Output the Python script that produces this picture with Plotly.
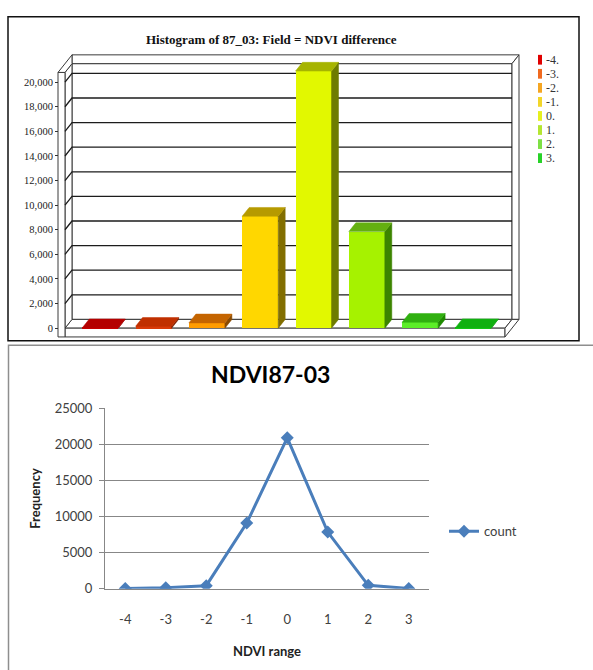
import plotly.graph_objects as go

# ---- data -------------------------------------------------------------
ndvi_classes = [-4, -3, -2, -1, 0, 1, 2, 3]
class_labels = ["-4.", "-3.", "-2.", "-1.", "0.", "1.", "2.", "3."]
counts = [30, 150, 430, 9100, 20900, 7850, 480, 40]
top_ticks = list(range(0, 20001, 2000))
bottom_ticks = [0, 5000, 10000, 15000, 20000, 25000]

# ---- palette ----------------------------------------------------------
front_colors = ["#C80000", "#D83A08", "#FF9C00", "#FFD700", "#E2F800", "#A6F200", "#5CEE28", "#14C814"]
top_colors = ["#B40000", "#C03000", "#C46400", "#B69A00", "#A6B400", "#64B010", "#30B010", "#10B010"]
side_colors = ["#7A0000", "#802000", "#8A4A00", "#826E00", "#6E7C00", "#3C8400", "#1E8A00", "#0A800A"]
legend_colors = ["#E00000", "#F06A20", "#F5A623", "#F2D62A", "#E6F01E", "#B4E632", "#7EE044", "#28D228"]
LINE_BLUE = "#4A7EBB"
GRID_GRAY = "#878787"

# ---- page geometry (pixels) ------------------------------------------
W, H = 593, 670
C0, STEP = 100.3, 53.3        # x of first class centre, spacing per class
Z0, K = 328.0, 0.0126         # y of the zero line, pixels per count


def fx(px):
    return px / W


def fy(py):
    return 1 - py / H


def dx(px):  # pixel x -> top-chart data x
    return (px - C0) / STEP + ndvi_classes[0]


def dv(py):  # pixel y -> top-chart data value
    return (Z0 - py) / K


top_xr = [dx(47), dx(527)]
top_yr = [dv(346), dv(39)]

DX = 7 / STEP                  # depth of the pseudo-3D box, class units
DY = 9 / K                     # depth of the pseudo-3D box, count units
BAR_W = 36 / STEP

xf0, xf1 = dx(65), dx(505)     # front plane extents
xlo = xf0 - DX                 # outer face of the left wall
TOP = dv(66)                   # top of the front plane
SL = DY                        # slab thickness of floor / walls

fig = go.Figure()

# ---- top chart: bars (front faces) -------------------------------------
fig.add_trace(go.Bar(
    x=ndvi_classes, y=counts, width=BAR_W,
    marker=dict(color=front_colors, line=dict(width=0)),
    xaxis="x", yaxis="y", showlegend=False, hoverinfo="skip",
))

# top and side faces of every bar
for c, v, tc, sc in zip(ndvi_classes, counts, top_colors, side_colors):
    l, r = c - BAR_W / 2, c + BAR_W / 2
    fig.add_trace(go.Scatter(
        x=[r, r + DX, r + DX, r, r], y=[0, DY, v + DY, v, 0],
        fill="toself", fillcolor=sc, mode="lines", line=dict(color=sc, width=0.5),
        xaxis="x", yaxis="y", showlegend=False, hoverinfo="skip",
    ))
    fig.add_trace(go.Scatter(
        x=[l, l + DX, r + DX, r, l], y=[v, v + DY, v + DY, v, v],
        fill="toself", fillcolor=tc, mode="lines", line=dict(color=tc, width=0.5),
        xaxis="x", yaxis="y", showlegend=False, hoverinfo="skip",
    ))

# ---- top chart: box frame and back-wall grid ----------------------------
def path(points):
    return "M" + " L".join(f"{x:.5f},{y:.2f}" for x, y in points) + " Z"


frame_faces = [
    # back wall
    [(xf0 + DX, DY), (xf1 + DX, DY), (xf1 + DX, TOP + DY), (xf0 + DX, TOP + DY)],
    [(xf0 + DX, TOP + DY), (xf1 + DX, TOP + DY), (xf1 + 2 * DX, TOP + 2 * DY), (xf0 + DX, TOP + 2 * DY)],
    [(xf1 + DX, DY), (xf1 + DX, TOP + DY), (xf1 + 2 * DX, TOP + 2 * DY), (xf1 + 2 * DX, DY)],
    # floor
    [(xf0, 0), (xf1, 0), (xf1 + DX, DY), (xf0 + DX, DY)],
    [(xf0, -SL), (xf1, -SL), (xf1, 0), (xf0, 0)],
    [(xf1, -SL), (xf1, 0), (xf1 + DX, DY), (xf1 + 2 * DX, DY)],
    # left wall
    [(xf0, 0), (xf0 + DX, DY), (xf0 + DX, TOP + DY), (xf0, TOP)],
    [(xlo, -SL), (xf0, -SL), (xf0, TOP), (xlo, TOP)],
    [(xlo, TOP), (xf0, TOP), (xf0 + DX, TOP + DY), (xf0 + DX, TOP + 2 * DY)],
]
shapes = []
for face in frame_faces:
    shapes.append(dict(type="path", xref="x", yref="y", layer="below",
                       path=path(face), fillcolor="white",
                       line=dict(color="#3a3a3a", width=1)))
for t in top_ticks[1:]:
    shapes.append(dict(
        type="path", xref="x", yref="y", layer="below",
        path=f"M{xf0:.5f},{t} L{xf0 + DX:.5f},{t + DY:.2f} L{xf1 + DX:.5f},{t + DY:.2f}",
        line=dict(color="#1c1c1c", width=1.3)))

# panel borders
shapes.append(dict(type="rect", xref="paper", yref="paper",
                   x0=fx(8), x1=fx(579), y0=fy(9), y1=fy(341),
                   line=dict(color="#111111", width=1.5)))
shapes.append(dict(type="rect", xref="paper", yref="paper",
                   x0=fx(8.5), x1=fx(605), y0=fy(345.5), y1=fy(690),
                   line=dict(color="#8e8e8e", width=1.5)))

# class key of the top chart
annotations = []
for k, (lab, col) in enumerate(zip(class_labels, legend_colors)):
    yc = 53 + 14.4 * k
    shapes.append(dict(type="rect", xref="paper", yref="paper",
                       x0=fx(538), x1=fx(542), y0=fy(yc + 5), y1=fy(yc - 5),
                       fillcolor=col, line=dict(width=0)))
    annotations.append(dict(xref="paper", yref="paper", x=fx(544), y=fy(yc),
                            xanchor="left", yanchor="middle", showarrow=False,
                            text=lab, font=dict(family="Liberation Serif", size=12, color="#333")))

annotations.append(dict(xref="paper", yref="paper", x=fx(271), y=fy(32),
                        xanchor="center", yanchor="middle", showarrow=False,
                        text="<b>Histogram of 87_03: Field = NDVI difference</b>",
                        font=dict(family="Liberation Serif", size=13, color="#111")))
annotations.append(dict(xref="paper", yref="paper", x=fx(270), y=fy(375),
                        xanchor="center", yanchor="middle", showarrow=False,
                        text="<b>NDVI87-03</b>",
                        font=dict(family="Lato", size=23, color="#000")))

# ---- bottom chart: line --------------------------------------------------
fig.add_trace(go.Scatter(
    x=ndvi_classes, y=counts, name="count", mode="lines+markers",
    line=dict(color=LINE_BLUE, width=3),
    marker=dict(symbol="diamond", size=10, color=LINE_BLUE),
    xaxis="x2", yaxis="y2", hoverinfo="skip",
))

fig.update_layout(
    width=W, height=H, margin=dict(l=0, r=0, t=0, b=0),
    paper_bgcolor="white", plot_bgcolor="rgba(0,0,0,0)",
    shapes=shapes, annotations=annotations,
    xaxis=dict(domain=[fx(47), fx(527)], range=top_xr, visible=False, anchor="y"),
    yaxis=dict(domain=[fy(346), fy(39)], range=top_yr, anchor="free", position=fx(58),
               tickvals=top_ticks, tickformat=",d", showgrid=False, zeroline=False,
               showline=False, ticks="outside", ticklen=3, tickcolor="#333",
               tickfont=dict(family="Liberation Serif", size=10.5, color="#222")),
    xaxis2=dict(domain=[fx(105), fx(429)], range=[-4.5, 3.5], anchor="y2",
                tickvals=ndvi_classes, ticktext=[str(c) for c in ndvi_classes],
                showgrid=False, zeroline=False, showline=True, linecolor=GRID_GRAY,
                linewidth=1, ticks="outside", ticklen=19, tickcolor="rgba(0,0,0,0)",
                tickfont=dict(family="Lato", size=13, color="#404040"),
                title=dict(text="<b>NDVI range</b>", standoff=20,
                           font=dict(family="Lato", size=13, color="#222"))),
    yaxis2=dict(domain=[fy(595), fy(410)], range=[0, 25000], anchor="x2",
                tickvals=bottom_ticks, tickformat="d", showgrid=True, gridcolor=GRID_GRAY,
                gridwidth=1, zeroline=False, showline=True, linecolor=GRID_GRAY, linewidth=1,
                ticks="outside", ticklen=5, tickcolor=GRID_GRAY, ticklabelstandoff=4,
                tickfont=dict(family="Lato", size=13, color="#404040"),
                title=dict(text="<b>Frequency</b>", standoff=11,
                           font=dict(family="Lato", size=13, color="#222"))),
    showlegend=True,
    legend=dict(x=fx(444), y=fy(536), xanchor="left", yanchor="middle",
                bgcolor="rgba(0,0,0,0)", borderwidth=0,
                font=dict(family="Lato", size=13, color="#404040")),
    bargap=0,
)

fig.write_html("out.html", config={"displayModeBar": False})
